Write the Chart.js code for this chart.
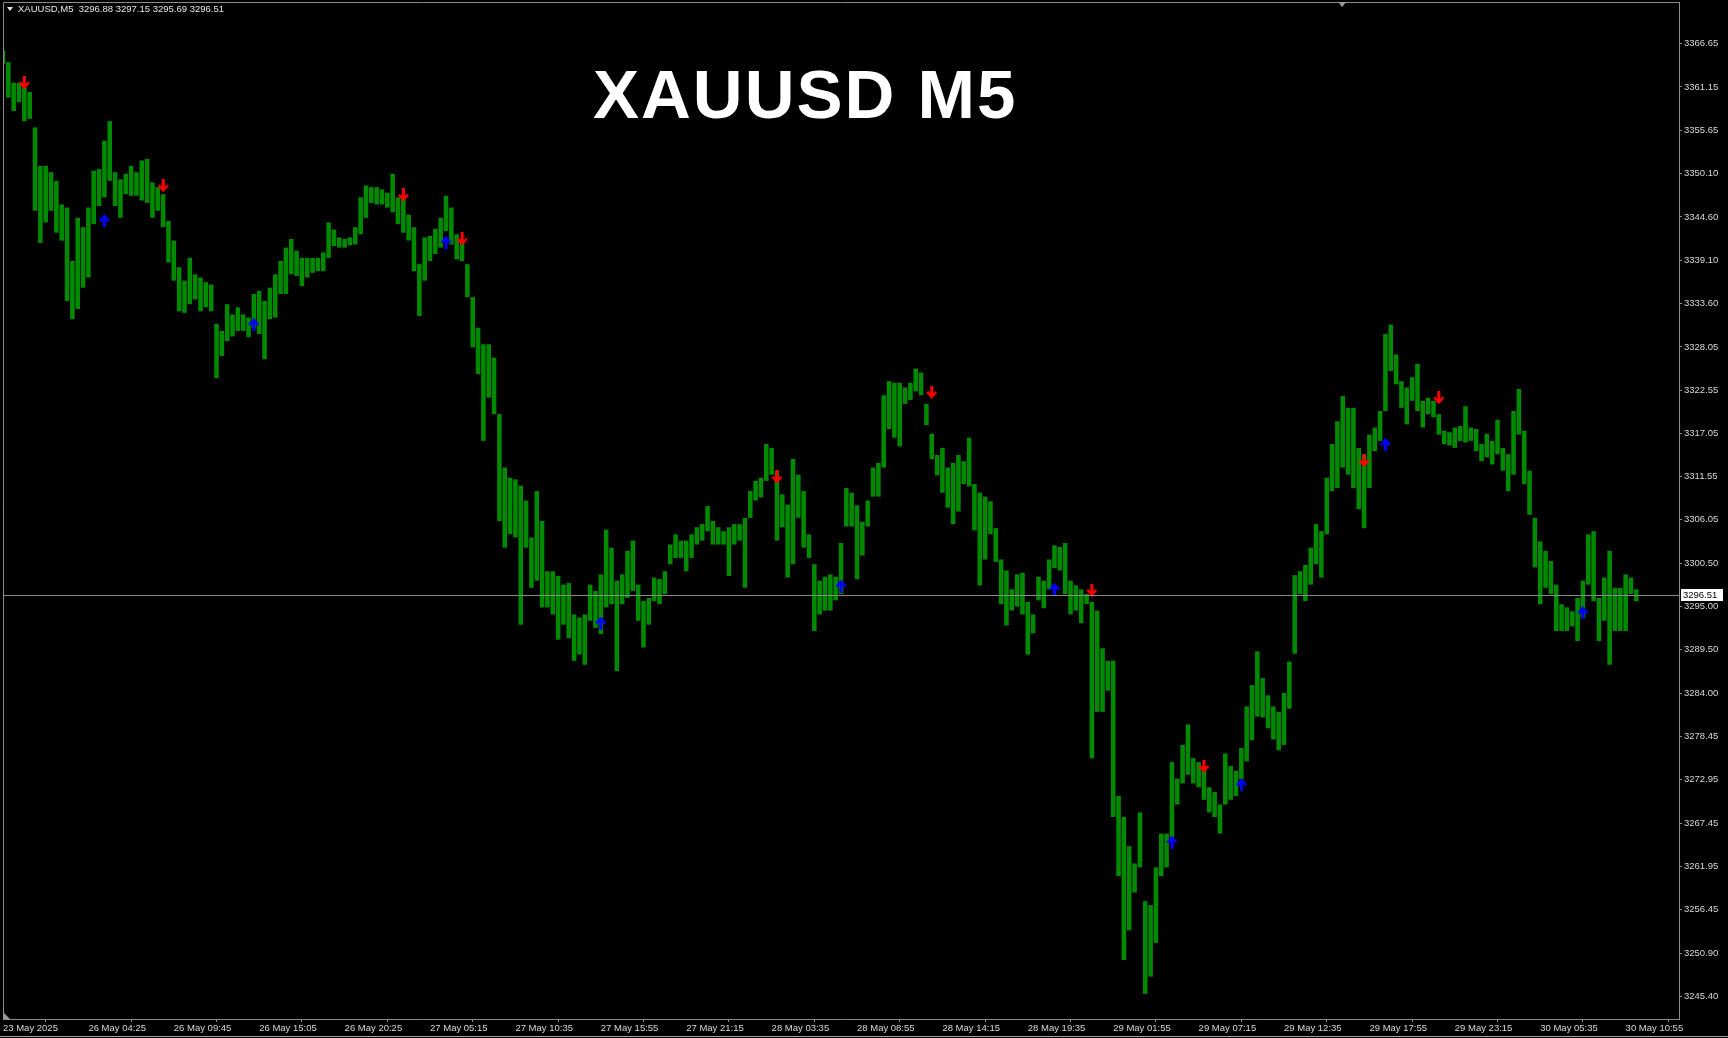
<!DOCTYPE html>
<html>
<head>
<meta charset="utf-8">
<title>XAUUSD M5</title>
<script src="https://cdn.jsdelivr.net/npm/chart.js@4.4.1/dist/chart.umd.min.js"></script>
<style>
  html, body { margin: 0; padding: 0; background: #000; }
  #wrap { position: relative; width: 1728px; height: 1038px; overflow: hidden; background: #000; }
  #chart { position: absolute; left: 0; top: 0; }
  #hdr { position: absolute; left: 18px; top: 3px; font: 9.5px "Liberation Sans", Arial, sans-serif; color: #e6e6e6; white-space: pre; }
  #tri { position: absolute; left: 7px; top: 7px; width: 0; height: 0;
         border-left: 3px solid transparent; border-right: 3px solid transparent; border-top: 4px solid #e6e6e6; }
  #title { position: absolute; left: 593px; top: 60px; font: bold 69px/69px "Liberation Sans", Arial, sans-serif;
           letter-spacing: 2px; color: #fff; white-space: pre; }
</style>
</head>
<body>
<div id="wrap">
  <canvas id="chart" width="1728" height="1038"></canvas>
  <div id="tri"></div>
  <div id="hdr"></div>
  <div id="title">XAUUSD M5</div>
</div>
<script>
// --- data (each slot = 4 x M5 bars) ---
const symbol = 'XAUUSD';
const timeframe = 'M5';
const lastBar = { open: 3296.88, high: 3297.15, low: 3295.69, close: 3296.51 };

const timeLabels = ['23 May 2025', '26 May 04:25', '26 May 09:45', '26 May 15:05', '26 May 20:25',
  '27 May 05:15', '27 May 10:35', '27 May 15:55', '27 May 21:15', '28 May 03:35',
  '28 May 08:55', '28 May 14:15', '28 May 19:35', '29 May 01:55', '29 May 07:15',
  '29 May 12:35', '29 May 17:55', '29 May 23:15', '30 May 05:35', '30 May 10:55'];
const slotsPerLabel = 16;
const slotCount = 315; // visible slots incl. the empty shift on the right

const yTickValues = [3366.65, 3361.15, 3355.65, 3350.10, 3344.60, 3339.10, 3333.60, 3328.05,
  3322.55, 3317.05, 3311.55, 3306.05, 3300.50, 3295.00, 3289.50, 3284.00, 3278.45, 3272.95,
  3267.45, 3261.95, 3256.45, 3250.90, 3245.40];

const highs = [
  3365.8, 3364.3, 3361.7, 3361.7, 3361.1, 3360.5, 3356.0, 3351.1, 3351.1, 3350.3, 3349.2, 3346.2, 3345.8, 3339.0, 3344.5, 3343.3,
  3345.8, 3350.5, 3350.7, 3354.3, 3356.8, 3350.3, 3349.4, 3350.1, 3351.1, 3350.3, 3351.8, 3352.0, 3349.0, 3348.4, 3347.5, 3344.1,
  3341.6, 3338.2, 3336.5, 3339.4, 3337.3, 3336.9, 3336.3, 3336.0, 3331.0, 3330.1, 3333.5, 3332.2, 3333.1, 3332.2, 3331.8, 3334.8,
  3335.2, 3333.9, 3335.6, 3337.3, 3339.0, 3340.7, 3341.8, 3340.3, 3339.4, 3339.4, 3339.4, 3339.4, 3340.1, 3343.9, 3343.0, 3342.0,
  3341.8, 3342.0, 3343.3, 3347.1, 3348.6, 3348.4, 3348.4, 3348.1, 3347.7, 3350.1, 3347.1, 3347.1, 3344.9, 3343.3, 3338.6, 3342.0,
  3342.2, 3343.1, 3344.5, 3347.3, 3345.8, 3342.4, 3341.6, 3338.6, 3334.4, 3330.5, 3328.4, 3328.4, 3326.7, 3319.5, 3312.7, 3311.4,
  3311.2, 3310.4, 3308.5, 3303.8, 3309.7, 3305.9, 3299.5, 3299.5, 3298.9, 3297.8, 3298.0, 3294.0, 3293.6, 3294.0, 3297.8, 3297.0,
  3299.1, 3304.8, 3302.5, 3298.3, 3299.1, 3302.1, 3303.4, 3297.8, 3295.7, 3296.1, 3298.7, 3298.5, 3299.5, 3302.9, 3304.2, 3303.4,
  3303.4, 3304.2, 3305.1, 3305.5, 3307.8, 3305.9, 3305.1, 3304.6, 3305.1, 3305.5, 3305.5, 3306.3, 3309.7, 3311.0, 3311.4, 3315.7,
  3315.2, 3312.3, 3309.3, 3308.0, 3313.8, 3311.8, 3309.7, 3304.2, 3300.4, 3298.3, 3298.8, 3299.1, 3298.8, 3303.1, 3310.1, 3309.5,
  3307.9, 3305.8, 3308.5, 3312.7, 3313.3, 3321.9, 3323.7, 3323.5, 3323.5, 3322.9, 3323.5, 3325.3, 3324.8, 3320.8, 3317.0, 3314.3,
  3315.2, 3312.7, 3313.3, 3314.3, 3313.5, 3316.5, 3310.6, 3309.5, 3309.0, 3308.4, 3305.0, 3301.0, 3299.6, 3297.2, 3299.1, 3299.3,
  3295.6, 3294.0, 3298.8, 3298.3, 3301.0, 3302.8, 3302.6, 3303.1, 3298.3, 3297.7, 3297.2, 3296.6, 3295.6, 3294.5, 3289.7, 3288.1,
  3288.1, 3270.9, 3268.2, 3264.5, 3262.3, 3268.8, 3257.5, 3257.0, 3261.8, 3266.1, 3266.1, 3275.2, 3273.1, 3277.4, 3280.0, 3275.7,
  3275.2, 3274.7, 3272.0, 3271.4, 3269.8, 3276.3, 3274.7, 3274.1, 3277.0, 3282.3, 3285.0, 3289.3, 3285.9, 3283.7, 3282.3, 3281.6,
  3284.0, 3288.0, 3299.0, 3299.5, 3300.3, 3302.5, 3305.5, 3304.6, 3311.4, 3315.7, 3318.6, 3321.8, 3320.3, 3320.3, 3315.2, 3314.4,
  3316.9, 3317.8, 3319.9, 3329.7, 3330.9, 3327.1, 3323.7, 3322.9, 3324.2, 3325.9, 3321.2, 3321.6, 3321.2, 3319.5, 3317.4, 3317.2,
  3317.8, 3318.0, 3320.5, 3317.8, 3317.6, 3315.7, 3317.0, 3316.1, 3318.8, 3315.2, 3314.4, 3319.9, 3322.7, 3317.4, 3312.3, 3306.3,
  3303.3, 3302.1, 3300.8, 3297.8, 3295.3, 3294.9, 3294.4, 3296.1, 3298.3, 3304.2, 3304.6, 3296.1, 3298.7, 3302.1, 3297.4, 3297.4,
  3299.1, 3298.7, 3297.2
];
const lows = [
  3364.1, 3359.8, 3358.1, 3359.2, 3356.8, 3357.1, 3345.4, 3341.3, 3343.9, 3345.4, 3342.6, 3341.6, 3333.9, 3331.6, 3332.9, 3335.6,
  3336.9, 3343.7, 3346.0, 3347.1, 3349.2, 3346.0, 3344.5, 3347.5, 3347.3, 3347.3, 3346.7, 3346.4, 3344.5, 3345.4, 3343.3, 3338.8,
  3336.5, 3332.6, 3332.4, 3333.5, 3334.1, 3332.6, 3333.1, 3332.6, 3324.1, 3326.9, 3328.8, 3329.4, 3330.1, 3330.1, 3329.3, 3330.5,
  3329.7, 3326.5, 3331.6, 3331.8, 3334.8, 3334.8, 3337.3, 3337.1, 3335.8, 3336.9, 3337.5, 3337.7, 3337.7, 3339.4, 3340.9, 3340.7,
  3340.7, 3341.0, 3341.1, 3342.4, 3344.5, 3346.4, 3346.2, 3346.2, 3345.8, 3345.2, 3343.7, 3342.6, 3341.6, 3337.7, 3332.0, 3336.5,
  3339.0, 3339.9, 3340.7, 3342.8, 3341.1, 3339.2, 3339.0, 3334.4, 3328.0, 3324.6, 3316.1, 3321.6, 3319.5, 3305.9, 3302.5, 3304.2,
  3303.8, 3292.7, 3302.5, 3297.4, 3298.3, 3294.9, 3294.9, 3294.0, 3290.8, 3292.7, 3291.0, 3288.1, 3288.9, 3287.6, 3293.2, 3292.3,
  3291.5, 3294.9, 3295.3, 3286.8, 3295.3, 3296.1, 3297.0, 3293.2, 3289.8, 3292.7, 3295.7, 3295.3, 3296.6, 3300.4, 3301.2, 3301.2,
  3299.5, 3301.2, 3302.9, 3303.4, 3304.6, 3302.9, 3302.9, 3302.9, 3298.9, 3302.9, 3303.4, 3297.4, 3306.3, 3308.5, 3308.9, 3311.0,
  3311.8, 3303.4, 3305.1, 3298.7, 3300.4, 3306.3, 3302.5, 3301.2, 3291.9, 3294.0, 3294.5, 3294.5, 3295.8, 3296.6, 3305.2, 3305.2,
  3298.5, 3301.5, 3305.2, 3309.0, 3309.0, 3312.7, 3317.6, 3316.5, 3315.4, 3320.8, 3321.3, 3322.4, 3321.9, 3318.1, 3313.8, 3311.7,
  3309.5, 3307.6, 3305.5, 3307.1, 3310.6, 3310.3, 3304.7, 3297.7, 3301.0, 3304.2, 3300.7, 3295.3, 3292.6, 3294.5, 3295.0, 3294.0,
  3288.9, 3291.6, 3295.8, 3294.8, 3297.2, 3299.9, 3299.6, 3296.6, 3294.0, 3294.5, 3292.9, 3295.3, 3275.7, 3281.6, 3281.6, 3284.3,
  3268.2, 3260.7, 3250.0, 3253.8, 3258.6, 3261.8, 3245.7, 3247.9, 3252.2, 3260.7, 3261.8, 3265.6, 3269.8, 3272.5, 3273.6, 3272.5,
  3272.0, 3270.4, 3268.8, 3268.2, 3266.1, 3269.8, 3270.4, 3270.9, 3273.0, 3275.3, 3278.0, 3281.0, 3280.9, 3279.5, 3278.1, 3276.7,
  3277.4, 3282.0, 3289.0, 3296.6, 3295.7, 3297.8, 3300.4, 3298.7, 3304.2, 3309.7, 3310.1, 3312.7, 3311.8, 3310.1, 3307.4, 3305.0,
  3310.1, 3314.8, 3316.1, 3319.9, 3325.0, 3323.3, 3320.3, 3318.2, 3321.2, 3319.9, 3317.8, 3319.5, 3319.1, 3316.9, 3315.7, 3315.5,
  3315.2, 3316.1, 3315.9, 3316.1, 3314.8, 3313.5, 3314.0, 3313.1, 3314.4, 3312.3, 3309.7, 3311.8, 3316.9, 3310.6, 3306.7, 3300.0,
  3295.3, 3297.4, 3296.6, 3291.9, 3291.9, 3291.9, 3292.5, 3290.6, 3293.6, 3297.8, 3295.7, 3290.6, 3293.2, 3287.6, 3291.9, 3291.9,
  3291.9, 3296.6, 3295.7
];

// signal arrows: slot index + price of the arrow
const sellIdx = [4, 30, 75, 86, 145, 174, 204, 225, 255, 269];
const sellPrice = [3361.7, 3348.6, 3347.4, 3341.8, 3311.5, 3322.3, 3297.1, 3274.7, 3313.6, 3321.6];
const buyIdx = [19, 47, 83, 112, 157, 197, 219, 232, 259, 296];
const buyPrice = [3344.1, 3330.9, 3341.4, 3292.9, 3297.6, 3297.2, 3265.0, 3272.3, 3315.6, 3294.2];

// --- header text ---
document.getElementById('hdr').textContent =
  `${symbol},${timeframe}  ${lastBar.open.toFixed(2)} ${lastBar.high.toFixed(2)} ${lastBar.low.toFixed(2)} ${lastBar.close.toFixed(2)}`;

// category labels: a time label every 16 slots, blank otherwise
const labels = Array.from({ length: slotCount }, (_, i) =>
  i % slotsPerLabel === 0 ? (timeLabels[i / slotsPerLabel] || '') : '');

const ranges = highs.map((h, i) => [lows[i], h]);

function sparse(idx, vals) {
  const out = new Array(highs.length).fill(null);
  idx.forEach((k, j) => { out[k] = vals[j]; });
  return out;
}

// wingdings-like thick arrows
function arrowIcon(color, up) {
  const c = document.createElement('canvas');
  c.width = 11; c.height = 13;
  const g = c.getContext('2d');
  if (!up) { g.translate(0, 13); g.scale(1, -1); }
  g.strokeStyle = color;
  g.lineWidth = 3;
  g.beginPath(); g.moveTo(5.5, 2.5); g.lineTo(5.5, 13); g.stroke();
  g.lineWidth = 2.6;
  g.beginPath(); g.moveTo(1, 6.8); g.lineTo(5.5, 1.8); g.lineTo(10, 6.8); g.stroke();
  return c;
}

const axisColor = '#8c8c8c';
const textColor = '#d8d8d8';
const tickFont = { family: '"Liberation Sans", Arial, sans-serif', size: 9.5 };

// stop Chart.js from reserving room for overhanging tick labels
function noLabelPadding(scale) {
  scale.paddingTop = 0;
  scale.paddingBottom = 0;
  scale.paddingLeft = 0;
  scale.paddingRight = 0;
}

// MT4 style extras: frame, bid line, price box, small markers
const mtDecor = {
  id: 'mtDecor',
  afterDatasetsDraw(chart) {
    const { ctx, chartArea: a, scales: { y } } = chart;
    const py = Math.round(y.getPixelForValue(lastBar.close)) + 0.5;
    ctx.save();
    ctx.strokeStyle = '#8a8a8a';
    ctx.lineWidth = 1;
    ctx.beginPath(); ctx.moveTo(a.left, py); ctx.lineTo(a.right, py); ctx.stroke();
    ctx.restore();
  },
  afterDraw(chart) {
    const { ctx, chartArea: a, scales: { y } } = chart;
    ctx.save();
    ctx.strokeStyle = axisColor;
    ctx.lineWidth = 1;
    ctx.beginPath();
    ctx.moveTo(a.left + 0.5, a.bottom); ctx.lineTo(a.left + 0.5, a.top + 0.5); ctx.lineTo(a.right, a.top + 0.5);
    ctx.stroke();
    // window bottom edge
    ctx.strokeStyle = '#a0a0a0';
    ctx.beginPath(); ctx.moveTo(0, chart.height - 1.5); ctx.lineTo(chart.width, chart.height - 1.5); ctx.stroke();

    // current price box
    const py = Math.round(y.getPixelForValue(lastBar.close));
    ctx.fillStyle = '#ffffff';
    ctx.fillRect(a.right + 2, py - 6, 42, 12);
    ctx.fillStyle = '#000000';
    ctx.font = '9.5px "Liberation Sans", Arial, sans-serif';
    ctx.textBaseline = 'middle';
    ctx.textAlign = 'left';
    ctx.fillText(lastBar.close.toFixed(2), a.right + 4, py + 0.5);

    // chart shift marker (top) and scale marker (bottom-left)
    ctx.fillStyle = '#9a9a9a';
    const sx = a.left + (a.right - a.left) * 0.799;
    ctx.beginPath(); ctx.moveTo(sx - 4, a.top); ctx.lineTo(sx + 4, a.top); ctx.lineTo(sx, a.top + 5); ctx.closePath(); ctx.fill();
    ctx.beginPath(); ctx.moveTo(a.left + 1, a.bottom); ctx.lineTo(a.left + 1, a.bottom - 6); ctx.lineTo(a.left + 7, a.bottom); ctx.closePath(); ctx.fill();
    ctx.restore();
  }
};

new Chart(document.getElementById('chart'), {
  type: 'bar',
  data: {
    labels: labels,
    datasets: [
      {
        type: 'line',
        label: 'Sell',
        data: sparse(sellIdx, sellPrice),
        showLine: false,
        pointStyle: arrowIcon('#ff0000', false),
        pointRadius: 6,
        order: 0
      },
      {
        type: 'line',
        label: 'Buy',
        data: sparse(buyIdx, buyPrice),
        showLine: false,
        pointStyle: arrowIcon('#0000ff', true),
        pointRadius: 6,
        order: 1
      },
      {
        type: 'bar',
        label: 'XAUUSD',
        data: ranges,
        backgroundColor: '#008a00',
        borderWidth: 0,
        barPercentage: 0.85,
        categoryPercentage: 1,
        order: 2
      }
    ]
  },
  options: {
    responsive: false,
    animation: false,
    events: [],
    layout: { autoPadding: false, padding: { left: 3, top: 2, right: 0, bottom: 0 } },
    plugins: { legend: { display: false }, tooltip: { enabled: false } },
    scales: {
      x: {
        type: 'category',
        offset: false,
        grid: { drawOnChartArea: false, drawTicks: true, tickLength: 3, color: axisColor },
        border: { display: true, color: axisColor },
        ticks: { autoSkip: false, maxRotation: 0, align: 'start', padding: 1, color: textColor, font: tickFont },
        afterBuildTicks(scale) {
          scale.ticks = scale.ticks.filter(t => t.value % slotsPerLabel === 0 && labels[t.value]);
        },
        afterFit(scale) { scale.height = 19; noLabelPadding(scale); }
      },
      y: {
        type: 'linear',
        position: 'right',
        min: 3242.5,
        max: 3371.97,
        grid: { drawOnChartArea: false, drawTicks: true, tickLength: 3, color: axisColor },
        border: { display: true, color: axisColor },
        ticks: {
          color: textColor, font: tickFont, padding: 2,
          callback: v => Number(v).toFixed(2)
        },
        afterBuildTicks(scale) {
          scale.ticks = yTickValues.map(v => ({ value: v }));
        },
        afterFit(scale) { scale.width = 49; noLabelPadding(scale); }
      }
    }
  },
  plugins: [mtDecor]
});
</script>
</body>
</html>
